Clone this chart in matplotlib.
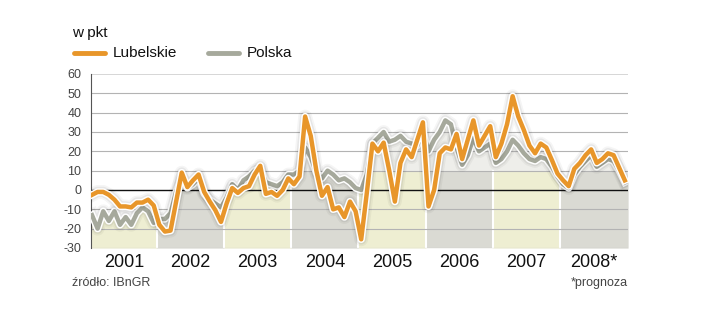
import matplotlib
matplotlib.use('Agg')
import matplotlib.pyplot as plt
import matplotlib.patheffects as pe
from matplotlib.lines import Line2D
import numpy as np

plt.rcParams['font.family'] = ['Liberation Sans', 'DejaVu Sans']

# koniunktura, dane miesieczne 2001-2008 (2008 - prognoza)
years = ['2001', '2002', '2003', '2004', '2005', '2006', '2007', '2008*']
lubelskie = [
    -2.5, -1, -1, -2.5, -5, -8.5, -8.5, -9, -6.5, -6.5, -5, -8,      # 2001
    -18, -21.5, -21, -6, 9, 1.5, 5, 8, -1, -6, -10.5, -16.5,         # 2002
    -7, 1, -1.5, 1, 2, 8, 12.5, -2, -1, -3, 0, 6,                    # 2003
    3, 7, 38, 28, 10, -3, 1.5, -10, -9, -14, -6, -11,                # 2004
    -25.5, -1.5, 24, 20, 24.5, 10, -6, 14, 21, 17, 26, 35,           # 2005
    -8.5, 0, 19, 22, 21, 29, 16, 26, 36, 23, 28, 33,                 # 2006
    17, 24, 34, 48.5, 38, 31, 23, 19, 24, 22, 15.5, 8.5,             # 2007
    5, 2, 11, 14, 18, 21, 14, 16, 19, 18, 11.5, 5,                   # 2008
]
polska = [
    -13, -20, -11, -16, -11, -18, -14, -18, -12, -9, -11, -17,
    -15, -15, -12, -1, 6, 1, 3, 6, -2, -5, -7, -9,
    -4, 3, 0, 5, 7, 10, 11, 4, 3, 2, 4, 8,
    8, 10, 22, 17, 9, 6, 10, 8, 5, 6, 4, 1,
    0, 8, 24, 27, 30, 25, 26, 28, 25, 24, 23, 30,
    20, 26, 30, 36, 34, 22, 13, 18, 27, 20, 22, 24,
    14, 16, 20, 26, 23, 19, 16, 15, 17, 16, 12, 7,
    3, 1, 8, 12, 15, 18, 12, 14, 16, 15, 10, 4,
]
yticks = [60, 50, 40, 30, 20, 10, 0, -10, -20, -30]

ORANGE = '#e8962a'
GREY_LINE = '#a6a99c'
BAND_YELLOW = '#eeeed2'
BAND_GREY = '#dadad3'

x = np.arange(len(lubelskie))
pl = np.array(polska, dtype=float)
xmin, xmax = -0.18, 95.57

fig = plt.figure(figsize=(7.2, 3.33), dpi=100)
ax = fig.add_axes([91 / 720, 1 - 248 / 333, 537 / 720, 174 / 333])
ax.set_xlim(xmin, xmax)
ax.set_ylim(-30, 60)

# pole pod linia Polski; pasy lat siegaja najwyzej do 10 pkt
xf = np.concatenate([[xmin], x, [xmax]])
pf = np.concatenate([[pl[0]], pl, [pl[-1]]])
ax.fill_between(xf, -30, pf, color='#eeeeea', lw=0, zorder=1)
edges = [xmin] + [12 * k - 0.5 for k in range(1, 8)] + [xmax]
capped = np.minimum(pf, 10)
for k in range(8):
    lo, hi = edges[k], edges[k + 1]
    xs = np.concatenate([[lo], xf[(xf > lo) & (xf < hi)], [hi]])
    ys = np.interp(xs, xf, capped)
    ax.fill_between(xs, -30, ys, color=BAND_YELLOW if k % 2 == 0 else BAND_GREY,
                    lw=0, zorder=1.2)
for e in edges[1:-1]:
    top = np.interp(e, xf, capped)
    ax.plot([e, e], [-30, top], color='white', lw=1.5, zorder=1.5)

# siatka
for t in yticks:
    if t == 0:
        ax.axhline(0, color='#111111', lw=1.0, zorder=2)
    elif t == 60:
        ax.axhline(t, color='#cfcfcf', lw=1.2, zorder=2)
    else:
        ax.axhline(t, color='#b3b3b3', lw=0.8, zorder=2)

shadow = [pe.Stroke(linewidth=10, foreground='#000000', alpha=0.04),
          pe.Stroke(linewidth=7.5, foreground='#000000', alpha=0.06),
          pe.Stroke(linewidth=5.3, foreground='white'),
          pe.Normal()]
ax.plot(x, polska, color=GREY_LINE, lw=3.2, solid_joinstyle='round',
        path_effects=shadow, zorder=3)
ax.plot(x, lubelskie, color=ORANGE, lw=3.2, solid_joinstyle='round',
        path_effects=shadow, zorder=4)

ax.set_xticks([])
ax.set_yticks(yticks)
ax.set_yticklabels([str(t) for t in yticks], fontsize=9, color='#444444')
ax.tick_params(axis='y', length=0, pad=7)
for s in ['top', 'right', 'bottom']:
    ax.spines[s].set_visible(False)
ax.spines['left'].set_color('#555555')
ax.spines['left'].set_linewidth(0.8)

# podpisy lat
for k, yr in enumerate(years):
    xc = (edges[k] + edges[k + 1]) / 2
    ax.text(xc, -37.5, yr, ha='center', va='center', fontsize=13,
            color='#111111', clip_on=False)

# naglowek i legenda
fig.text(72 / 720, 1 - 33 / 333, 'w pkt', fontsize=11, va='center', color='#111111')
fig.add_artist(Line2D([74 / 720, 105 / 720], [1 - 53 / 333] * 2, color=ORANGE,
                      lw=3.5, solid_capstyle='round'))
fig.text(113 / 720, 1 - 53 / 333, 'Lubelskie', fontsize=11, va='center', color='#111111')
fig.add_artist(Line2D([208 / 720, 239 / 720], [1 - 53 / 333] * 2, color=GREY_LINE,
                      lw=3.5, solid_capstyle='round'))
fig.text(247 / 720, 1 - 53 / 333, 'Polska', fontsize=11, va='center', color='#111111')

fig.text(72 / 720, 1 - 283 / 333, 'źródło: IBnGR', fontsize=9, va='center', color='#444444')
fig.text(628 / 720, 1 - 283 / 333, '*prognoza', fontsize=9, va='center', ha='right',
         color='#444444')

fig.savefig('out.png', dpi=100, facecolor='white')
